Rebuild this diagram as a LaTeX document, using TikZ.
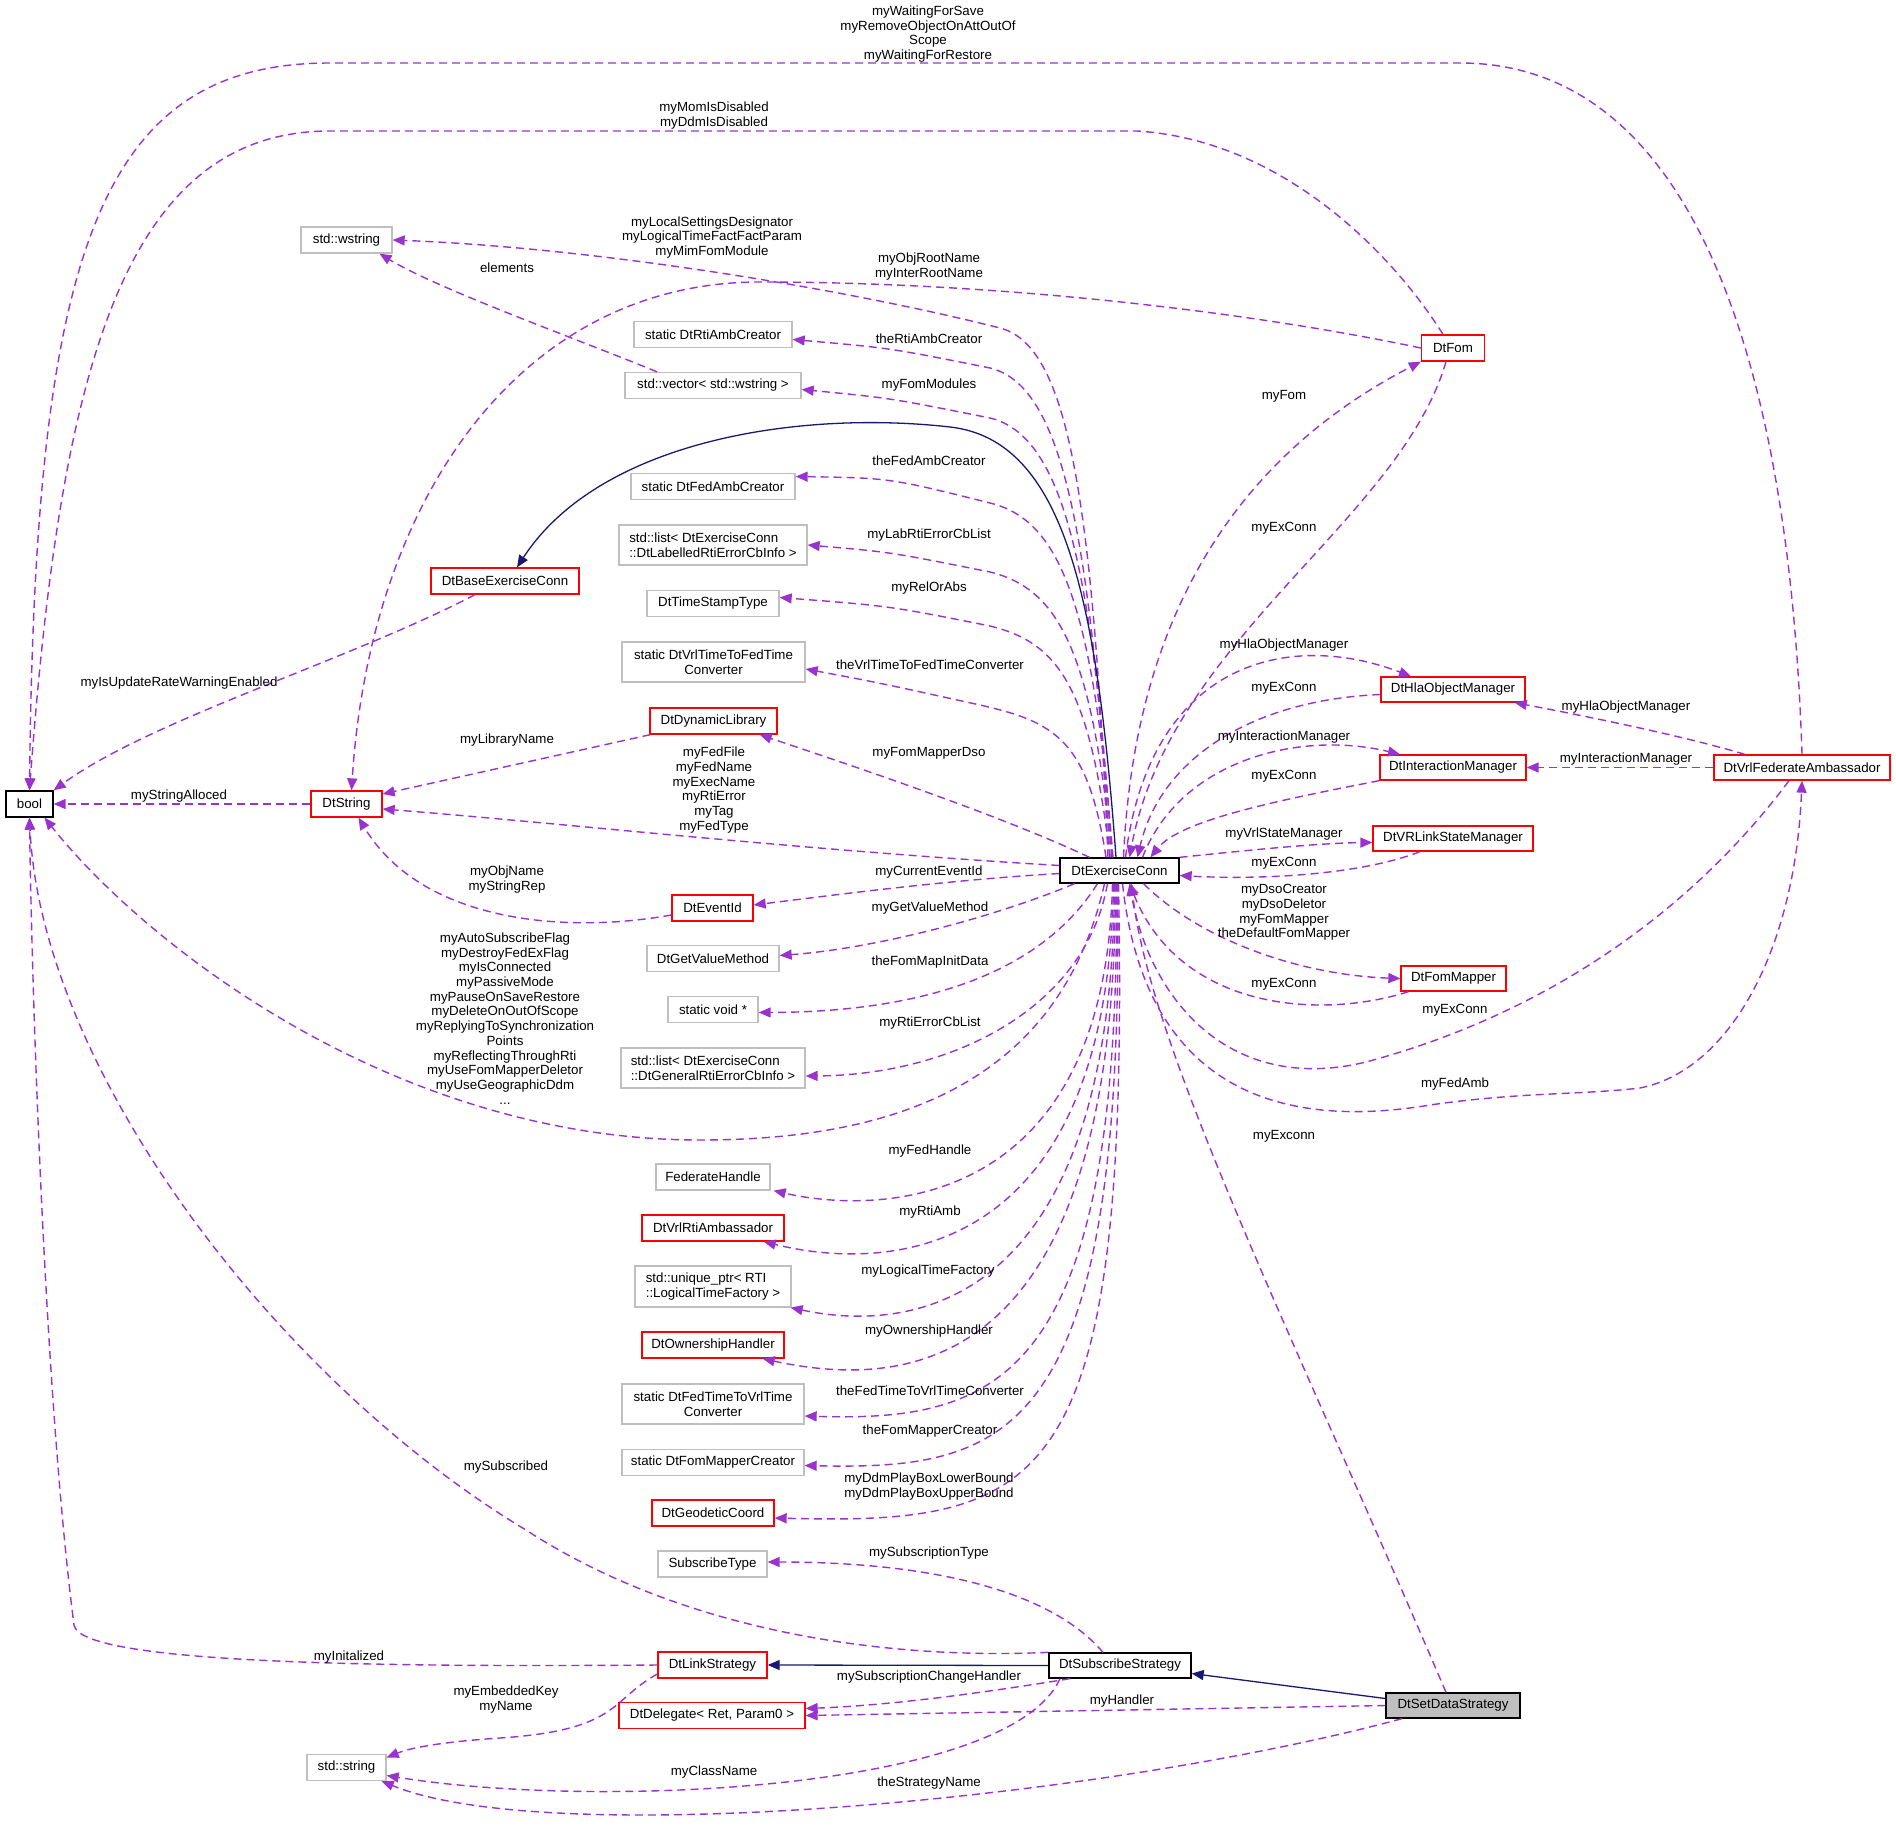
\documentclass[tikz,border=0pt]{standalone}
\usepackage{fontspec}
\setmainfont{Liberation Sans}
\usetikzlibrary{arrows.meta,calc}
\definecolor{purp}{HTML}{9A32CD}
\definecolor{inhblue}{HTML}{191970}
\definecolor{boxgrey}{HTML}{BFBFBF}
\newcommand\dxfont{\fontsize{13.3}{14.7}\selectfont}
\begin{document}
\begin{tikzpicture}[x=1pt,y=-1pt,
  cls/.style={draw, line width=1.3pt, minimum height=26pt, inner xsep=2pt, inner ysep=1pt, font=\dxfont, fill=white},
  gbox/.style={cls, draw=boxgrey},
  rbox/.style={cls, draw=red},
  kbox/.style={cls, draw=black},
  dep/.style={draw=purp, line width=1.4pt, dash pattern=on 8pt off 5pt, -{Triangle[length=12pt,width=10pt]}},
  inh/.style={draw=inhblue, line width=1.3pt, -{Triangle[length=12pt,width=10pt]}},
  lbl/.style={font=\dxfont, inner sep=0pt, align=center, text=black}]
\useasboundingbox (0,0) rectangle (1896,1833);
\fill[white] (0,0) rectangle (1896,1833);

% ---------- nodes ----------
\node[kbox, minimum width=47pt] (bool) at (29.5,804) {bool};
\node[gbox, minimum width=91pt] (wstr) at (346.5,240) {std::wstring};
\node[gbox, minimum width=158pt] (rtiamb) at (713,334.5) {static DtRtiAmbCreator};
\node[gbox, minimum width=176pt] (vec) at (713,385.5) {std::vector< std::wstring >};
\node[gbox, minimum width=164pt] (fedamb) at (713,486.5) {static DtFedAmbCreator};
\node[gbox, minimum width=188pt, minimum height=40pt, align=left] (lablist) at (713,545) {std::list< DtExerciseConn\\::DtLabelledRtiErrorCbInfo >};
\node[rbox, minimum width=148pt] (base) at (505,581) {DtBaseExerciseConn};
\node[gbox, minimum width=132pt] (tst) at (713,603.5) {DtTimeStampType};
\node[gbox, minimum width=183pt, minimum height=40pt, align=center] (v2f) at (713.5,662) {static DtVrlTimeToFedTime\\Converter};
\node[rbox, minimum width=127pt] (dynlib) at (713.5,721) {DtDynamicLibrary};
\node[rbox, minimum width=71pt] (dtstr) at (346.5,804) {DtString};
\node[kbox, minimum width=119pt, minimum height=25pt] (E) at (1119.5,870.5) {DtExerciseConn};
\node[rbox, minimum width=81pt] (evid) at (712.5,908) {DtEventId};
\node[gbox, minimum width=132pt] (gvm) at (713,958.5) {DtGetValueMethod};
\node[gbox, minimum width=90pt] (svoid) at (713,1009.5) {static void *};
\node[gbox, minimum width=184pt, minimum height=40pt, align=left] (genlist) at (713,1068) {std::list< DtExerciseConn\\::DtGeneralRtiErrorCbInfo >};
\node[gbox, minimum width=114pt] (fedh) at (713,1177) {FederateHandle};
\node[rbox, minimum width=142pt] (vrlrti) at (713,1228) {DtVrlRtiAmbassador};
\node[gbox, minimum width=156pt, minimum height=41pt, align=left] (uptr) at (713,1286.5) {std::unique\_ptr< RTI\\::LogicalTimeFactory >};
\node[rbox, minimum width=142pt] (own) at (713,1345) {DtOwnershipHandler};
\node[gbox, minimum width=182pt, minimum height=40pt, align=center] (f2v) at (713,1404) {static DtFedTimeToVrlTime\\Converter};
\node[gbox, minimum width=182pt] (fmc) at (713,1462.5) {static DtFomMapperCreator};
\node[rbox, minimum width=122pt] (geo) at (713,1513) {DtGeodeticCoord};
\node[gbox, minimum width=109pt] (subt) at (712.5,1564) {SubscribeType};
\node[rbox, minimum width=109pt] (link) at (712.5,1665) {DtLinkStrategy};
\node[rbox, minimum width=186pt] (deleg) at (712,1715.5) {DtDelegate< Ret, Param0 >};
\node[gbox, minimum width=79pt] (str) at (346.5,1767.5) {std::string};
\node[kbox, minimum width=142pt, minimum height=25pt] (S) at (1120,1665.5) {DtSubscribeStrategy};
\node[kbox, fill=boxgrey, minimum width=134pt, minimum height=25pt] (D) at (1453,1705.5) {DtSetDataStrategy};
\node[rbox, minimum width=63pt] (fom) at (1453,348) {DtFom};
\node[rbox, minimum width=144pt, minimum height=25pt] (hla) at (1453,689.5) {DtHlaObjectManager};
\node[rbox, minimum width=146pt, minimum height=25pt] (inter) at (1453,767.5) {DtInteractionManager};
\node[rbox, minimum width=160pt, minimum height=25pt] (vrls) at (1453,838.5) {DtVRLinkStateManager};
\node[rbox, minimum width=105pt, minimum height=25pt] (fmap) at (1453.5,978.5) {DtFomMapper};
\node[rbox, minimum width=176pt, minimum height=25pt] (vfed) at (1802,767.5) {DtVrlFederateAmbassador};

% ---------- top long edges to bool ----------
\draw[dep] (vfed.north) .. controls (1790,380) and (1700,63) .. (1460,63) -- (330,63) .. controls (100,63) and (35,250) .. (bool.north);
\draw[dep] ([xshift=-10pt]fom.north) .. controls (1390,250) and (1280,140) .. (1137,131) -- (330,131) .. controls (120,131) and (60,380) .. (bool.north);
\draw[dep] (fom.west) .. controls (1250,312) and (1000,282) .. (760,282) .. controls (520,282) and (370,500) .. ([xshift=5pt]dtstr.north);

% ---------- E upper-left fan ----------
\draw[dep] ([xshift=-11.5pt]E.north) .. controls (1092,480) and (1065,345) .. (1000,328) .. controls (850,290) and (600,248) .. (wstr.east);
\draw[dep] ([xshift=-9.5pt]E.north) .. controls (1090,521) and (1060,385) .. (990,368) .. controls (890,348) .. ([yshift=-5pt]rtiamb.east);
\draw[dep] ([xshift=-7.5pt]E.north) .. controls (1092,554) and (1060,435) .. (990,418) .. controls (890,398) .. ([yshift=-4pt]vec.east);
\draw[dep] ([xshift=-6.5pt]E.north) .. controls (1093,603) and (1060,520) .. (990,503) .. controls (890,478) .. ([yshift=10pt]fedamb.east);
\draw[dep] ([xshift=-7.5pt]E.north) .. controls (1092,654) and (1060,589) .. (990,572) .. controls (890,552) .. (lablist.east);
\draw[dep] ([xshift=-9.5pt]E.north) .. controls (1090,689) and (1060,643) .. (990,626) .. controls (890,606) .. ([yshift=6pt]tst.east);
\draw[dep] ([xshift=-13.5pt]E.north) .. controls (1088,740) and (1055,722) .. (980,705) .. controls (880,683) .. ([yshift=-7pt]v2f.east);
\draw[dep] ([xshift=-30pt]E.north) .. controls (1000,815) and (850,765) .. ([xshift=-18pt]dynlib.south east);
\draw[inh] ([xshift=-3.5pt]E.north) .. controls (1097,600) and (1065,440) .. (950,427) .. controls (800,410) and (600,440) .. ([xshift=12pt]base.north);

% ---------- E west ----------
\draw[dep] ([yshift=5pt]E.west) .. controls (800,850) and (550,822) .. ([yshift=-5pt]dtstr.east);
\draw[dep] ([yshift=-3pt]E.west) .. controls (950,880) and (850,893) .. ([yshift=3pt]evid.east);
\draw[dep] ([xshift=-45pt]E.south) .. controls (1000,915) and (880,948) .. ([yshift=3pt]gvm.east);

% ---------- E lower-left fan ----------
\draw[dep] ([xshift=-22pt]E.south) .. controls (1040,975) and (920,1012) .. ([yshift=-3pt]svoid.east);
\draw[dep] ([xshift=-12pt]E.south) .. controls (1085,1010) and (950,1075) .. ([yshift=-8pt]genlist.east);
\draw[dep] ([xshift=-15pt]E.south) .. controls (1060,1080) and (900,1140) .. (700,1140) .. controls (400,1140) and (150,950) .. ([xshift=15pt]bool.south);
\draw[dep] ([xshift=-7pt]E.south) .. controls (1105,1210) and (880,1215) .. ([xshift=3pt]fedh.south east);
\draw[dep] ([xshift=-6pt]E.south) .. controls (1108,1250) and (900,1275) .. ([xshift=-21pt]vrlrti.south east);
\draw[dep] ([xshift=-5pt]E.south) .. controls (1112,1300) and (920,1335) .. ([xshift=-1pt]uptr.south east);
\draw[dep] ([xshift=-4pt]E.south) .. controls (1115,1350) and (930,1395) .. ([xshift=-22pt]own.south east);
\draw[dep] ([xshift=-3pt]E.south) .. controls (1120,1380) and (1000,1422) .. ([yshift=-12pt]f2v.east);
\draw[dep] ([xshift=-2pt]E.south) .. controls (1125,1440) and (1010,1470) .. ([yshift=-3pt]fmc.east);
\draw[dep] ([xshift=-1pt]E.south) .. controls (1130,1490) and (1050,1525) .. ([yshift=-5pt]geo.east);

% ---------- right side ----------
\draw[dep] ([xshift=4pt]E.north) .. controls (1135,600) and (1250,450) .. (fom.south west);
\draw[dep] ([xshift=-7pt]fom.south) .. controls (1400,520) and (1170,640) .. ([xshift=10pt]E.north);
\draw[dep] ([xshift=6pt]E.north) .. controls (1150,660) and (1290,630) .. ([xshift=-42pt]hla.north);
\draw[dep] ([yshift=-5pt]hla.west) .. controls (1250,700) and (1160,760) .. ([xshift=18pt]E.north);
\draw[dep] ([xshift=23pt]E.north) .. controls (1180,760) and (1300,730) .. ([xshift=-53pt]inter.north);
\draw[dep] (inter.south west) .. controls (1280,800) and (1180,820) .. ([xshift=31pt]E.north);
\draw[dep] (E.north east) .. controls (1250,850) and (1320,843) .. ([yshift=-4pt]vrls.west);
\draw[dep] ([xshift=-33pt]vrls.south) .. controls (1360,875) and (1260,880) .. ([yshift=-5pt]E.east);
\draw[dep] ([xshift=24pt]E.south) .. controls (1200,940) and (1300,975) .. (fmap.west);
\draw[dep] ([xshift=-45pt]fmap.south) .. controls (1320,1020) and (1180,1010) .. ([xshift=10pt]E.south);
\draw[dep] ([xshift=-13pt]vfed.south) .. controls (1700,900) and (1560,1010) .. (1366,1062) .. controls (1230,1095) and (1150,1000) .. ([xshift=10pt]E.south);
\draw[dep] ([xshift=3pt]E.south) .. controls (1145,1090) and (1280,1130) .. (1430,1105) .. controls (1520,1092) and (1580,1095) .. (1640,1088) .. controls (1730,1070) and (1795,950) .. (vfed.south);
\draw[dep] ([xshift=-57pt]vfed.north) .. controls (1680,735) and (1580,715) .. ([xshift=-11pt]hla.south east);
\draw[dep] (vfed.west) -- (inter.east);
\draw[dep] ([xshift=-7pt]D.north) .. controls (1300,1350) and (1150,1050) .. ([xshift=12pt]E.south);

% ---------- left misc ----------
\draw[dep] ([xshift=-56pt]vec.north) .. controls (580,340) and (440,290) .. ([xshift=33pt]wstr.south);
\draw[dep] ([xshift=-30pt]base.south) .. controls (350,660) and (150,720) .. (bool.north east);
\draw[dep] (dtstr.west) -- (bool.east);
\draw[dep] ([xshift=1pt]dynlib.south west) -- ([yshift=10pt]dtstr.east);
\draw[dep] ([yshift=-7pt]evid.west) .. controls (560,935) and (420,920) .. ([xshift=12pt]dtstr.south);

% ---------- strategies ----------
\draw[dep] ([xshift=-17pt]S.north) .. controls (1050,1590) and (930,1562) .. ([yshift=2pt]subt.east);
\draw[dep] (S.north west) .. controls (880,1660) and (680,1630) .. (526,1530) .. controls (276,1380) and (41,1068) .. (bool.south);
\draw[dep] (link.west) .. controls (400,1667) and (80,1665) .. (74,1625) .. controls (45,1400) and (32,1000) .. (bool.south);
\draw[inh] (S.west) -- (link.east);
\draw[dep] ([xshift=-50pt]S.south) .. controls (1000,1690) and (900,1705) .. ([yshift=7pt]deleg.east);
\draw[dep] ([xshift=-60pt]S.south) .. controls (1010,1790) and (600,1810) .. ([yshift=-8pt]str.east);
\draw[inh] ([yshift=7pt]D.west) -- ([yshift=-8pt]S.east);
\draw[dep] (D.west) -- (deleg.east);
\draw[dep] ([xshift=-51pt]D.south) .. controls (1100,1800) and (550,1850) .. ([xshift=-5pt]str.south east);
\draw[dep] ([yshift=-9pt]link.west) .. controls (610,1700) and (620,1730) .. (500,1738) .. controls (440,1742) and (410,1748) .. ([yshift=10pt]str.east);

% ---------- labels ----------
\node[lbl] (l1) at (928,34) {myWaitingForSave\\myRemoveObjectOnAttOutOf\\Scope\\myWaitingForRestore};
\node[lbl] (l2) at (714,115.5) {myMomIsDisabled\\myDdmIsDisabled};
\node[lbl] (l3) at (712,237.5) {myLocalSettingsDesignator\\myLogicalTimeFactFactParam\\myMimFomModule};
\node[lbl] (l4) at (929,266.5) {myObjRootName\\myInterRootName};
\node[lbl] (l5) at (507,268) {elements};
\node[lbl] (l6) at (929,339) {theRtiAmbCreator};
\node[lbl] (l7) at (929,385) {myFomModules};
\node[lbl] (l8) at (1284,396) {myFom};
\node[lbl] (l9) at (929,461) {theFedAmbCreator};
\node[lbl] (l10) at (1284,528) {myExConn};
\node[lbl] (l11) at (929,535) {myLabRtiErrorCbList};
\node[lbl] (l12) at (929,588) {myRelOrAbs};
\node[lbl] (l13) at (1284,645) {myHlaObjectManager};
\node[lbl] (l14) at (930,665) {theVrlTimeToFedTimeConverter};
\node[lbl] (l15) at (179,683) {myIsUpdateRateWarningEnabled};
\node[lbl] (l16) at (1284,688) {myExConn};
\node[lbl] (l17) at (1626,707) {myHlaObjectManager};
\node[lbl] (l18) at (1284,737) {myInteractionManager};
\node[lbl] (l19) at (507,740) {myLibraryName};
\node[lbl] (l20) at (929,753) {myFomMapperDso};
\node[lbl] (l21) at (714,790) {myFedFile\\myFedName\\myExecName\\myRtiError\\myTag\\myFedType};
\node[lbl] (l22) at (1626,759) {myInteractionManager};
\node[lbl] (l23) at (1284,776) {myExConn};
\node[lbl] (l24) at (179,796) {myStringAlloced};
\node[lbl] (l25) at (1284,834) {myVrlStateManager};
\node[lbl] (l26) at (1284,863) {myExConn};
\node[lbl] (l27) at (507,879.5) {myObjName\\myStringRep};
\node[lbl] (l28) at (929,872) {myCurrentEventId};
\node[lbl] (l29) at (1284,912.5) {myDsoCreator\\myDsoDeletor\\myFomMapper\\theDefaultFomMapper};
\node[lbl] (l30) at (930,908) {myGetValueMethod};
\node[lbl] (l31) at (505,1018.5) {myAutoSubscribeFlag\\myDestroyFedExFlag\\myIsConnected\\myPassiveMode\\myPauseOnSaveRestore\\myDeleteOnOutOfScope\\myReplyingToSynchronization\\Points\\myReflectingThroughRti\\myUseFomMapperDeletor\\myUseGeographicDdm\\...};
\node[lbl] (l32) at (930,962) {theFomMapInitData};
\node[lbl] (l33) at (1284,984) {myExConn};
\node[lbl] (l34) at (1455,1010) {myExConn};
\node[lbl] (l35) at (930,1023) {myRtiErrorCbList};
\node[lbl] (l36) at (1455,1084) {myFedAmb};
\node[lbl] (l37) at (1284,1136) {myExconn};
\node[lbl] (l38) at (930,1151) {myFedHandle};
\node[lbl] (l39) at (930,1212) {myRtiAmb};
\node[lbl] (l40) at (928,1271) {myLogicalTimeFactory};
\node[lbl] (l41) at (929,1331) {myOwnershipHandler};
\node[lbl] (l42) at (930,1391) {theFedTimeToVrlTimeConverter};
\node[lbl] (l43) at (930,1431) {theFomMapperCreator};
\node[lbl] (l44) at (506,1467) {mySubscribed};
\node[lbl] (l45) at (929,1486.5) {myDdmPlayBoxLowerBound\\myDdmPlayBoxUpperBound};
\node[lbl] (l46) at (929,1553) {mySubscriptionType};
\node[lbl] (l47) at (349,1657) {myInitalized};
\node[lbl] (l48) at (929,1677) {mySubscriptionChangeHandler};
\node[lbl] (l49) at (506,1699.5) {myEmbeddedKey\\myName};
\node[lbl] (l50) at (1122,1701) {myHandler};
\node[lbl] (l51) at (714,1772) {myClassName};
\node[lbl] (l52) at (929,1783) {theStrategyName};
\end{tikzpicture}
\end{document}
